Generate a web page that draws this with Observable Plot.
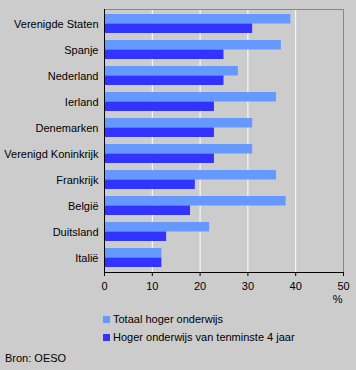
<!DOCTYPE html>
<html>
<head>
<meta charset="utf-8">
<script src="https://cdn.jsdelivr.net/npm/d3@7"></script>
<script src="https://cdn.jsdelivr.net/npm/@observablehq/plot@0.6"></script>
<style>
  html, body { margin: 0; padding: 0; background: #cccccc; }
  body { width: 356px; height: 370px; overflow: hidden; font-family: "Liberation Sans", Arial, sans-serif; font-size: 11px; color: #000; }
  .legend { margin-left: 103px; }
  .item { height: 18px; line-height: 18px; display: flex; align-items: center; }
  .sw { width: 7px; height: 7px; margin-right: 3px; display: inline-block; }
  .src { margin-left: 5px; margin-top: 3px; height: 18px; line-height: 18px; }
</style>
</head>
<body>
<div id="chart"></div>
<script>
const countries = ["Verenigde Staten", "Spanje", "Nederland", "Ierland", "Denemarken", "Verenigd Koninkrijk", "Frankrijk", "België", "Duitsland", "Italië"];
const totaal = [39, 37, 28, 36, 31, 31, 36, 38, 22, 12];
const vierJaar = [31, 25, 25, 23, 23, 23, 19, 18, 13, 12];
const seriesNames = ["Totaal hoger onderwijs", "Hoger onderwijs van tenminste 4 jaar"];
const seriesColors = ["#6699ff", "#3333ff"];
const xTicks = [0, 10, 20, 30, 40, 50];
const gridTicks = [10, 20, 30, 40];
const source = "Bron: OESO";

const dataTot = countries.map((c, i) => ({country: c, value: totaal[i]}));
const dataVier = countries.map((c, i) => ({country: c, value: vierJaar[i]}));

const chart = Plot.plot({
  width: 356,
  height: 310,
  marginLeft: 104,
  marginRight: 13,
  marginTop: 9,
  marginBottom: 38,
  style: {background: "#cccccc", fontFamily: "'Liberation Sans', Arial, sans-serif", fontSize: "11px", color: "#000"},
  x: {domain: [0, 50], label: null},
  y: {domain: countries, paddingInner: 0.27, paddingOuter: 0.16, label: null},
  marks: [
    Plot.ruleX(gridTicks, {stroke: "white", strokeWidth: 1}),
    Plot.frame({stroke: "#888888"}),
    Plot.barX(dataTot, {x: "value", y: "country", fill: seriesColors[0], insetBottom: 9.5}),
    Plot.barX(dataVier, {x: "value", y: "country", fill: seriesColors[1], insetTop: 9.5}),
    Plot.ruleX([0], {stroke: "black"}),
    Plot.frame({anchor: "bottom", stroke: "black"}),
    Plot.axisX({ticks: xTicks, tickSize: 4, tickPadding: 6, label: null, stroke: "black"}),
    Plot.axisY({tickSize: 0, tickPadding: 6, label: null}),
    Plot.text(["%"], {frameAnchor: "bottom-right", dy: 30, dx: -1, fill: "black"})
  ]
});
document.getElementById("chart").appendChild(chart);

const legend = document.createElement("div");
legend.className = "legend";
seriesNames.forEach((name, i) => {
  const item = document.createElement("div");
  item.className = "item";
  const sw = document.createElement("span");
  sw.className = "sw";
  sw.style.background = seriesColors[i];
  item.appendChild(sw);
  item.appendChild(document.createTextNode(name));
  legend.appendChild(item);
});
document.body.appendChild(legend);
const src = document.createElement("div");
src.className = "src";
src.textContent = source;
document.body.appendChild(src);
</script>
</body>
</html>
